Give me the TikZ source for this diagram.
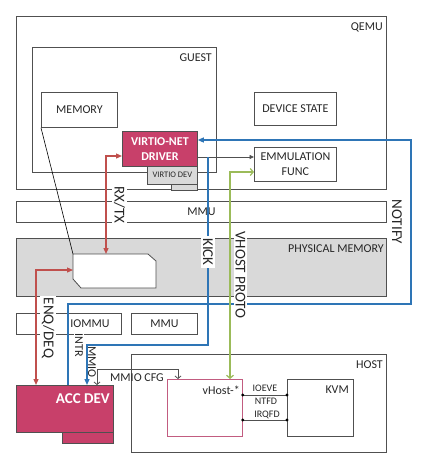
\documentclass[tikz,border=0pt]{standalone}
\usepackage{fontspec}
\setmainfont{Carlito}
\usetikzlibrary{arrows.meta}
\definecolor{bdr}{HTML}{505050}
\definecolor{crim}{HTML}{C8406A}
\definecolor{pinkb}{HTML}{C25C80}
\definecolor{redl}{HTML}{C0504D}
\definecolor{bluel}{HTML}{2E75B6}
\definecolor{greenl}{HTML}{9BBB59}
\definecolor{grayf}{HTML}{D9D9D9}
\tikzset{
  every node/.style={font=\fontsize{12}{14}\selectfont, inner sep=0pt, text=black!85},
  box/.style={draw=bdr, line width=0.8pt, anchor=north west, inner sep=0pt, align=center},
  redline/.style={draw=redl, line width=1.2pt},
  blueline/.style={draw=bluel, line width=1.2pt},
  greenline/.style={draw=greenl, line width=1.2pt},
  blkline/.style={draw=bdr, line width=0.8pt},
  vlabel/.style={rotate=-90, fill=white, inner sep=2pt, font=\fontsize{15}{17}\selectfont},
  slabel/.style={rotate=-90, fill=white, inner sep=1pt, font=\fontsize{12}{14}\selectfont},
}
\begin{document}
\begin{tikzpicture}[x=1pt,y=-1pt]
\useasboundingbox (0,0) rectangle (429,471);

% QEMU and guest
\node[box, minimum width=370pt, minimum height=173pt] (qemu) at (16,16) {};
\node[anchor=east] (qemut) at (383,27) {QEMU};
\node[box, minimum width=184pt, minimum height=125pt] (guest) at (32,47) {};
\node[anchor=east] (guestt) at (212,57.5) {GUEST};
\node[box, minimum width=76pt, minimum height=35pt] (memory) at (41,92) {MEMORY};
\node[box, minimum width=82pt, minimum height=33pt] (devstate) at (254,92) {DEVICE STATE};
\node[box, minimum width=82pt, minimum height=34pt, font=\fontsize{12}{15}\selectfont] (emu) at (254,147) {EMMULATION\\FUNC};
\node[box, fill=grayf, minimum width=26pt, minimum height=6pt] (smallg) at (171,184) {};
\node[box, fill=grayf, minimum width=50pt, minimum height=19pt, font=\fontsize{8.5}{10}\selectfont] (virtiodev) at (147,165) {VIRTIO DEV};
\node[box, fill=crim, minimum width=75pt, minimum height=35pt, text=white, font=\bfseries\fontsize{12}{15}\selectfont] (driver) at (122,131) {VIRTIO-NET\\DRIVER};

% MMU band and physical memory
\node[box, minimum width=370pt, minimum height=21pt] (mmuband) at (16,201) {MMU};
\node[box, fill=grayf, minimum width=370pt, minimum height=58pt] (phys) at (16,238) {};
\node[anchor=east] (physt) at (384,249) {PHYSICAL MEMORY};
\coordinate (bufnw) at (73,254);
\coordinate (bufn) at (106,254);
\coordinate (bufw) at (73,270);
\draw[blkline, fill=white] (bufnw) -- (148,254) -- (156,261) -- (156,288) -- (81,288) -- (73,279) -- cycle;

% IOMMU / MMU
\node[box, minimum width=105pt, minimum height=21pt] (iommu) at (16,313) {};
\node (iommut) at (90,323.5) {IOMMU};
\node[box, minimum width=66pt, minimum height=21pt] (mmu2) at (131,313) {MMU};

% Host
\node[box, minimum width=255pt, minimum height=98pt] (host) at (131,354) {};
\node[anchor=east] (hostt) at (383,365) {HOST};
\node[box, draw=pinkb, minimum width=75pt, minimum height=57pt] (vhost) at (167,379) {};
\node[anchor=east] (vhostt) at (240,390) {vHost-*};
\node[box, minimum width=66pt, minimum height=57pt] (kvm) at (287,379) {};
\node[anchor=east] (kvmt) at (349,390) {KVM};

% ACC DEV
\node[box, fill=crim, draw=bdr, minimum width=51pt, minimum height=43pt] (accback) at (62,400) {};
\node[box, fill=crim, draw=bdr, minimum width=97pt, minimum height=47pt] (acc) at (16,385) {};
\node[anchor=east, text=white, font=\bfseries\fontsize{15}{17}\selectfont] (acct) at (110,399) {ACC DEV};

% memory to buffer
\draw[black, line width=0.6pt] (memory.south west) -- (bufnw);

% driver to emulation
\coordinate (kick0) at (208,157);
\draw[blkline, -{Triangle[length=4.5pt,width=4pt]}] (driver.east |- kick0) -- (emu.west |- kick0);

% RX/TX
\draw[redline, {Triangle[length=6pt,width=5pt]}-{Triangle[length=6pt,width=5pt]}] (driver.west |- 0,156) -- (106,156) -- (bufn);
% ENQ/DEQ
\draw[redline, {Triangle[length=6pt,width=5pt]}-{Triangle[length=6pt,width=5pt]}] (bufw) -- (36,270) -- (acc.north -| 36,0);

% NOTIFY / INTR
\draw[blueline, -{Triangle[length=6pt,width=5pt]}] (acc.north -| 68,0) -- (68,304) -- (411,304) -- (411,140) -- (driver.east |- 0,140);
% KICK
\draw[blueline, -{Triangle[length=6pt,width=5pt]}] (kick0) -- (208,345) -- (87,345) -- (acc.north -| 87,0);

% VHOST PROTO
\draw[greenline, {Straight Barb[length=3pt,width=7pt]}-{Straight Barb[length=3pt,width=7pt]}] (vhost.north -| 230,0) -- (230,172) -- (emu.west |- 0,172);

% MMIO CFG
\draw[blkline, {Straight Barb[length=2.5pt,width=6pt]}-{Straight Barb[length=2.5pt,width=6pt]}] (acc.north -| 97,0) -- (97,369) -- (178,369) -- (vhost.north -| 178,0);
\node (mmiocfg) at (137,377.5) {MMIO CFG};

% vhost - kvm
\coordinate (io1) at (vhost.east |- 0,395);
\coordinate (io2) at (kvm.west |- 0,395);
\coordinate (irq1) at (vhost.east |- 0,420);
\coordinate (irq2) at (kvm.west |- 0,420);
\draw[blkline] (io1) -- (io2);
\draw[blkline] (irq1) -- (irq2);
\foreach \p in {io1,io2,irq1,irq2} \fill[black] (\p) circle (1.6pt);
\node[font=\fontsize{10}{12}\selectfont] (ioeve) at (265,388.5) {IOEVE};
\node[font=\fontsize{10}{12}\selectfont] (ntfd) at (266,401.5) {NTFD};
\node[font=\fontsize{10}{12}\selectfont] (irqfd) at (267,415) {IRQFD};

% rotated labels
\node[vlabel] (rxtx) at (119.5,205) {RX/TX};
\node[vlabel] (kick) at (208,252) {KICK};
\node[vlabel] (vproto) at (240.5,275) {VHOST PROTO};
\node[vlabel, fill=none] (notify) at (397,222) {NOTIFY};
\node[vlabel] (enq) at (48,328) {ENQ/DEQ};
\node[slabel] (intr) at (79,345) {INTR};
\node[slabel, fill=none] (mmio) at (92,362) {MMIO};
\end{tikzpicture}
\end{document}
